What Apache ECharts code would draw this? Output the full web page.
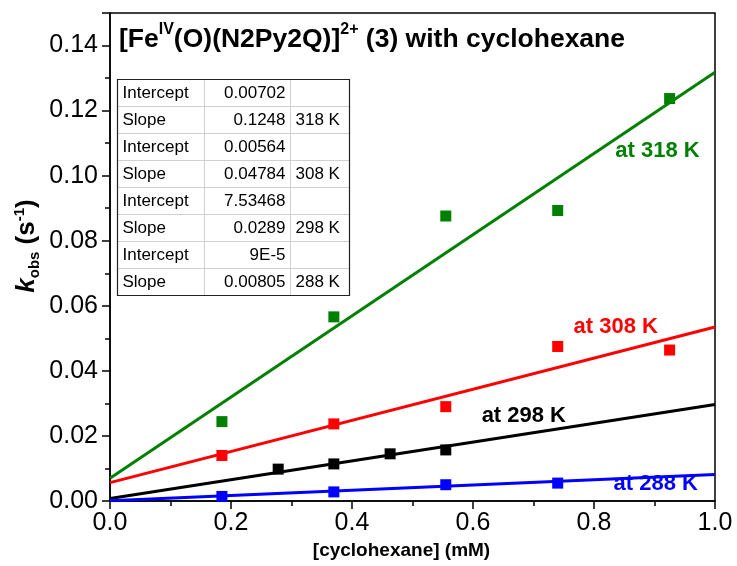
<!DOCTYPE html>
<html>
<head>
<meta charset="utf-8">
<script src="https://cdn.jsdelivr.net/npm/echarts@6/dist/echarts.min.js"></script>
<style>
  html, body { margin: 0; padding: 0; background: #fff; }
  #chart { width: 737px; height: 566px; }
</style>
</head>
<body>
<div id="chart"></div>
<script>
// Observed rate constants vs. substrate concentration at four temperatures
const temps = ['318 K', '308 K', '298 K', '288 K'];
const colors = ['#008000', '#ff0000', '#000000', '#0000ff'];

const conc318 = [0.185, 0.37, 0.555, 0.74, 0.925];
const kobs318 = [0.0244, 0.0566, 0.0876, 0.0893, 0.1237];
const conc308 = [0.185, 0.37, 0.555, 0.74, 0.925];
const kobs308 = [0.0140, 0.0237, 0.0290, 0.0475, 0.0464];
const conc298 = [0.278, 0.37, 0.463, 0.555];
const kobs298 = [0.0098, 0.0114, 0.0145, 0.0157];
const conc288 = [0.185, 0.37, 0.555, 0.74];
const kobs288 = [0.0014, 0.0028, 0.0050, 0.0055];

// Linear fit parameters (318, 308, 298, 288 K)
const fitSlope = [0.1248, 0.04784, 0.0289, 0.00805];
const fitIntercept = [0.00702, 0.00564, 7.53468e-4, 9e-5];

// Fit table text as printed
const tableIntercept = ['0.00702', '0.00564', '7.53468', '9E-5'];
const tableSlope = ['0.1248', '0.04784', '0.0289', '0.00805'];

const xTicks = [0, 0.2, 0.4, 0.6, 0.8, 1.0];
const yTicks = [0, 0.02, 0.04, 0.06, 0.08, 0.10, 0.12, 0.14];

const FONT = "'Liberation Sans', Arial, Helvetica, sans-serif";
const concSets = [conc318, conc308, conc298, conc288];
const kobsSets = [kobs318, kobs308, kobs298, kobs288];

// anchor of each "at T" caption, in data coordinates
const captionAt = [[0.905, 0.1075], [0.836, 0.0535], [0.684, 0.0261], [0.902, 0.0052]];

const series = [];
temps.forEach((t, i) => {
  series.push({
    name: 'fit ' + t,
    type: 'line',
    data: [0, 1].map(x => [x, fitIntercept[i] + fitSlope[i] * x]),
    showSymbol: false,
    lineStyle: { color: colors[i], width: 3 },
    z: 2,
    silent: true,
    markPoint: {
      symbol: 'rect',
      symbolSize: 0,
      data: [{ coord: captionAt[i] }],
      label: {
        show: true,
        position: 'inside',
        formatter: 'at ' + t,
        color: colors[i],
        fontFamily: FONT,
        fontWeight: 'bold',
        fontSize: 22
      }
    }
  });
  series.push({
    name: t,
    type: 'scatter',
    data: concSets[i].map((x, j) => [x, kobsSets[i][j]]),
    symbol: 'rect',
    symbolSize: 11,
    itemStyle: { color: colors[i], opacity: 1 },
    z: 3
  });
});

// fit-results table
const tbl = { left: 115, top: 77, cols: [87, 86, 59], rowH: 27 };
const tableChildren = [];
const rows = [];
temps.forEach((t, i) => {
  rows.push(['Intercept', tableIntercept[i], '']);
  rows.push(['Slope', tableSlope[i], t]);
});
const tW = tbl.cols.reduce((a, b) => a + b, 0);
const tH = rows.length * tbl.rowH;
for (let r = 1; r < rows.length; r++) {
  tableChildren.push({ type: 'line', shape: { x1: 0, y1: r * tbl.rowH, x2: tW, y2: r * tbl.rowH },
    style: { stroke: '#d0d0d0', lineWidth: 1 } });
}
let cx = 0;
for (let c = 0; c < tbl.cols.length - 1; c++) {
  cx += tbl.cols[c];
  tableChildren.push({ type: 'line', shape: { x1: cx, y1: 0, x2: cx, y2: tH },
    style: { stroke: '#d0d0d0', lineWidth: 1 } });
}
tableChildren.push({ type: 'rect', shape: { x: 0, y: 0, width: tW, height: tH },
  style: { fill: null, stroke: '#222', lineWidth: 1.2 } });
rows.forEach((row, r) => {
  const yMid = r * tbl.rowH + tbl.rowH / 2;
  tableChildren.push({ type: 'text', x: 5, y: yMid,
    style: { text: row[0], font: '17px ' + FONT, fill: '#000', verticalAlign: 'middle', align: 'left' } });
  tableChildren.push({ type: 'text', x: tbl.cols[0] + tbl.cols[1] - 5, y: yMid,
    style: { text: row[1], font: '17px ' + FONT, fill: '#000', verticalAlign: 'middle', align: 'right' } });
  if (row[2]) {
    tableChildren.push({ type: 'text', x: tbl.cols[0] + tbl.cols[1] + 5, y: yMid,
      style: { text: row[2], font: '17px ' + FONT, fill: '#000', verticalAlign: 'middle', align: 'left' } });
  }
});

const chart = echarts.init(document.getElementById('chart'), null, { renderer: 'canvas' });
chart.setOption({
  animation: false,
  backgroundColor: '#fff',
  title: {
    left: 114,
    top: 17,
    text: '{b|[Fe}{s|IV}{b|(O)(N2Py2Q)]}{s|2+}{b| (3) with cyclohexane}',
    textStyle: {
      rich: {
        b: { fontFamily: FONT, fontWeight: 'bold', fontSize: 26.5, color: '#000', lineHeight: 31, verticalAlign: 'bottom' },
        s: { fontFamily: FONT, fontWeight: 'bold', fontSize: 16, color: '#000', lineHeight: 31, verticalAlign: 'top' }
      }
    }
  },
  grid: {
    left: 110, right: 22, top: 13, bottom: 65,
    show: true, borderColor: '#000', borderWidth: 1.5, backgroundColor: 'transparent'
  },
  xAxis: {
    type: 'value',
    min: 0, max: 1, interval: 0.2,
    name: '[cyclohexane] (mM)',
    nameLocation: 'middle',
    nameGap: 37,
    nameTextStyle: { fontFamily: FONT, fontWeight: 'bold', fontSize: 19, color: '#000', padding: [0, 22, 0, 0] },
    axisLine: { show: true, onZero: false, lineStyle: { color: '#000', width: 1.5 } },
    axisTick: { show: true, inside: false, length: 8, lineStyle: { color: '#000', width: 1.5 } },
    minorTick: { show: true, splitNumber: 2, length: 5, lineStyle: { color: '#000', width: 1.5 } },
    splitLine: { show: false },
    axisLabel: {
      margin: 10,
      fontFamily: FONT, fontSize: 25, color: '#000',
      formatter: v => xTicks.some(t => Math.abs(t - v) < 1e-9) ? v.toFixed(1) : ''
    }
  },
  yAxis: {
    type: 'value',
    min: 0, max: 0.15, interval: 0.02,
    name: '{k|k}{sub|obs}{n| (s}{sup|-1}{n|)}',
    nameLocation: 'middle',
    nameRotate: 90,
    nameGap: 68,
    nameMoveOverlap: false,
    nameTextStyle: {
      padding: [0, 0, 0, 22],
      rich: {
        k: { fontFamily: FONT, fontWeight: 'bold', fontStyle: 'italic', fontSize: 26, color: '#000', lineHeight: 30, verticalAlign: 'middle' },
        sub: { fontFamily: FONT, fontWeight: 'bold', fontSize: 15, color: '#000', lineHeight: 30, verticalAlign: 'bottom' },
        sup: { fontFamily: FONT, fontWeight: 'bold', fontSize: 15, color: '#000', lineHeight: 30, verticalAlign: 'top' },
        n: { fontFamily: FONT, fontWeight: 'bold', fontSize: 26, color: '#000', lineHeight: 30, verticalAlign: 'middle' }
      }
    },
    axisLine: { show: true, onZero: false, lineStyle: { color: '#000', width: 1.5 } },
    axisTick: { show: true, inside: false, length: 8, lineStyle: { color: '#000', width: 1.5 } },
    minorTick: { show: true, splitNumber: 2, length: 5, lineStyle: { color: '#000', width: 1.5 } },
    splitLine: { show: false },
    axisLabel: {
      margin: 12,
      fontFamily: FONT, fontSize: 25, color: '#000',
      formatter: v => yTicks.some(t => Math.abs(t - v) < 1e-9) ? v.toFixed(2) : ''
    }
  },
  graphic: [{ type: 'group', left: tbl.left, top: tbl.top, children: tableChildren }],
  series: series
});
</script>
</body>
</html>
